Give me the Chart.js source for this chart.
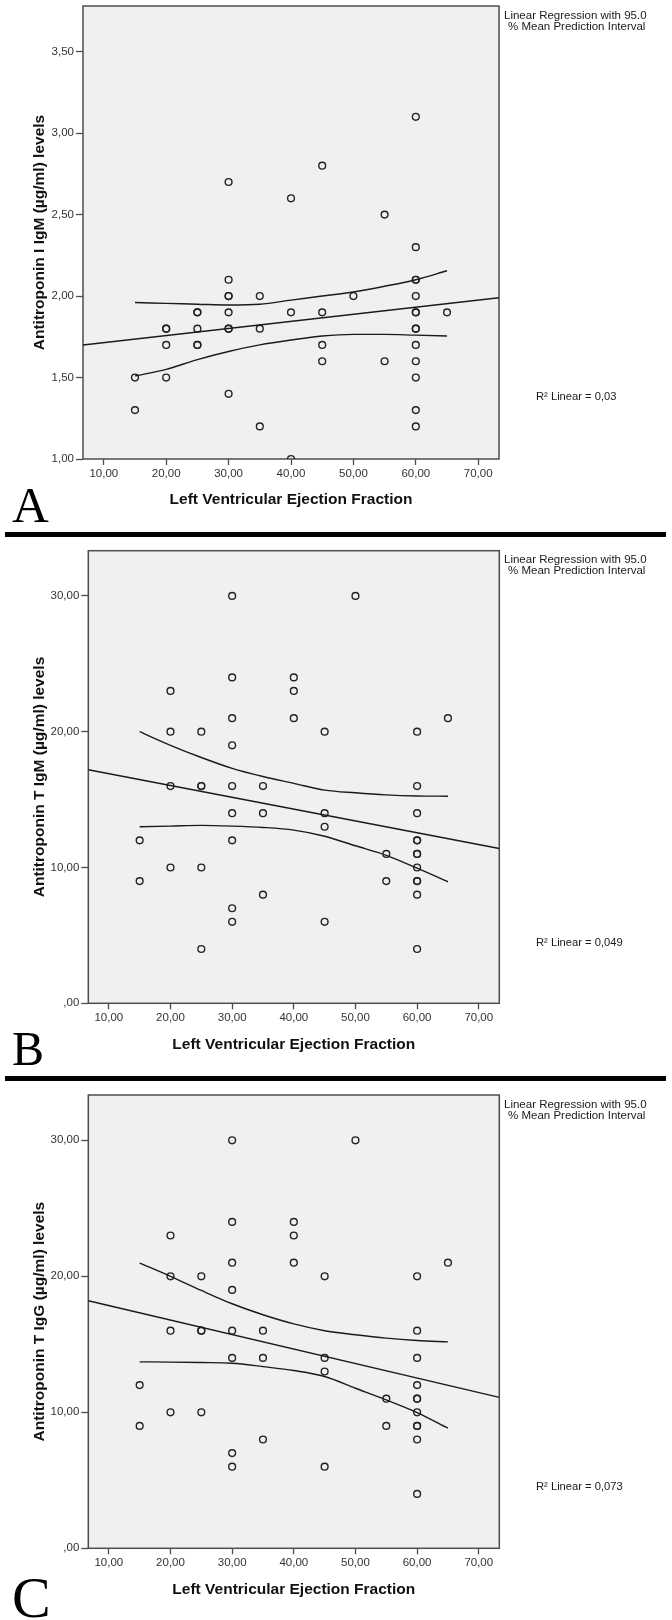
<!DOCTYPE html>
<html>
<head>
<meta charset="utf-8">
<script src="https://cdn.jsdelivr.net/npm/chart.js@4.4.1/dist/chart.umd.min.js"></script>
<style>
  body { margin: 0; background: #fff; }
  #page { position: relative; width: 672px; height: 1620px; overflow: hidden; }
  .panel { position: absolute; left: 0; }
  .rule { position: absolute; left: 5px; width: 661px; height: 5px; background: #000; }
</style>
</head>
<body>
<div id="page">
  <div class="panel" style="top:0px"><canvas id="chartA" width="672" height="530"></canvas></div>
  <div class="rule" style="top:532px"></div>
  <div class="panel" style="top:540px"><canvas id="chartB" width="672" height="530"></canvas></div>
  <div class="rule" style="top:1076px"></div>
  <div class="panel" style="top:1084px"><canvas id="chartC" width="672" height="536"></canvas></div>
</div>
<script>
// LVEF groups on the x axis, shared by all three panels
var efGroups = [15, 20, 25, 30, 35, 40, 45, 50, 55, 60, 65];

// one list of measured values per LVEF group (duplicates drawn twice)
var igmI = [
  [1.5, 1.3],
  [1.8, 1.8, 1.7, 1.5],
  [1.9, 1.9, 1.8, 1.7, 1.7],
  [2.7, 2.1, 2.0, 2.0, 1.9, 1.8, 1.8, 1.4],
  [2.0, 1.8, 1.2],
  [2.6, 1.9, 1.0],
  [2.8, 1.9, 1.7, 1.6],
  [2.0],
  [2.5, 1.6],
  [3.1, 2.3, 2.1, 2.1, 2.0, 1.9, 1.9, 1.8, 1.8, 1.7, 1.6, 1.5, 1.3, 1.2],
  [1.9]
];
var igmT = [
  [12, 9],
  [23, 20, 16, 10],
  [20, 16, 16, 10, 4],
  [30, 24, 21, 19, 16, 14, 12, 7, 6],
  [16, 14, 8],
  [24, 23, 21],
  [20, 14, 13, 6],
  [30],
  [11, 9],
  [20, 16, 14, 12, 12, 11, 11, 10, 9, 9, 8, 4],
  [21]
];
var iggT = [
  [12, 9],
  [23, 20, 16, 10],
  [20, 16, 16, 10],
  [30, 24, 21, 19, 16, 14, 7, 6],
  [16, 14, 8],
  [24, 23, 21],
  [20, 14, 13, 6],
  [30],
  [11, 9],
  [20, 16, 14, 12, 11, 11, 10, 9, 9, 8, 4],
  [21]
];

// regression line, read at the left and right plot edges
var fitEnds = [6.67, 73.33];
var fitI = [1.70, 1.99];
var fitTM = [17.2, 11.4];
var fitTG = [18.2, 11.1];

// 95% mean prediction interval curves
var ciX = [15, 20, 25, 30, 35, 40, 45, 50, 55, 60, 65];
var upperI = [1.96, 1.955, 1.95, 1.945, 1.95, 1.975, 2.0, 2.025, 2.06, 2.10, 2.155];
var lowerI = [1.51, 1.55, 1.61, 1.66, 1.70, 1.73, 1.755, 1.765, 1.765, 1.76, 1.755];
var upperTM = [20.0, 19.0, 18.1, 17.3, 16.7, 16.2, 15.7, 15.5, 15.35, 15.27, 15.25];
var lowerTM = [13.0, 13.05, 13.1, 13.05, 12.95, 12.75, 12.3, 11.6, 10.9, 9.95, 8.95];
var upperTG = [20.97, 20.0, 18.96, 17.98, 17.17, 16.5, 16.0, 15.7, 15.45, 15.28, 15.18];
var lowerTG = [13.71, 13.69, 13.66, 13.61, 13.36, 13.07, 12.63, 11.77, 10.91, 9.98, 8.83];

// ticks
var xTicks = [10, 20, 30, 40, 50, 60, 70];
var yTicksI = [1.0, 1.5, 2.0, 2.5, 3.0, 3.5];
var yTicksT = [0, 10, 20, 30];

var xTitle = 'Left Ventricular Ejection Fraction';
var legendLines = ['Linear Regression with 95.0', '% Mean Prediction Interval'];

var SANS = "'Liberation Sans', Arial, sans-serif";

function toPoints(xs, groups) {
  var pts = [];
  for (var i = 0; i < xs.length; i++)
    for (var j = 0; j < groups[i].length; j++)
      pts.push({x: xs[i], y: groups[i][j]});
  return pts;
}
function pairs(xs, ys) {
  return xs.map(function (x, i) { return {x: x, y: ys[i]}; });
}
// SPSS style numbers: 1,50  ,00
function spss(v) {
  var s = Number(v).toFixed(2).replace('.', ',');
  if (s.indexOf('0,') === 0) s = s.slice(1);
  return s;
}

var panelText = {
  id: 'panelText',
  beforeDraw: function (chart) {
    var a = chart.chartArea, ctx = chart.ctx;
    ctx.save();
    ctx.fillStyle = '#f0f0f0';
    ctx.fillRect(a.left, a.top, a.right - a.left, a.bottom - a.top);
    ctx.restore();
  },
  beforeDatasetsDraw: function (chart) {
    var a = chart.chartArea, ctx = chart.ctx;
    ctx.save();
    ctx.strokeStyle = '#4d4d4d';
    ctx.lineWidth = 1.5;
    ctx.strokeRect(a.left, a.top, a.right - a.left, a.bottom - a.top);
    ctx.restore();
  },
  afterDraw: function (chart, args, o) {
    var ctx = chart.ctx;
    ctx.save();
    ctx.fillStyle = '#1a1a1a';
    ctx.textBaseline = 'middle';
    ctx.font = '11.5px ' + SANS;
    ctx.fillText(legendLines[0], 504, o.legendY);
    ctx.fillText(legendLines[1], 508, o.legendY + 10.5);
    ctx.font = '11.2px ' + SANS;
    ctx.fillText(o.r2, 536, o.r2Y);
    ctx.fillStyle = '#000';
    ctx.textBaseline = 'alphabetic';
    ctx.font = o.letterSize + "px 'Liberation Serif', 'Times New Roman', serif";
    ctx.fillText(o.letter, 12, o.letterY);
    ctx.restore();
  }
};

function makePanel(id, p) {
  var xAxisH = 60;
  var lineStyle = {type: 'line', showLine: true, pointRadius: 0, borderColor: '#1a1a1a', borderWidth: 1.4, fill: false};
  return new Chart(document.getElementById(id), {
    type: 'scatter',
    data: {
      datasets: [
        Object.assign({}, lineStyle, {data: pairs(fitEnds, p.fit)}),
        Object.assign({}, lineStyle, {data: pairs(ciX, p.upper), cubicInterpolationMode: 'monotone'}),
        Object.assign({}, lineStyle, {data: pairs(ciX, p.lower), cubicInterpolationMode: 'monotone'}),
        {
          data: toPoints(efGroups, p.values),
          pointRadius: 3.4,
          borderWidth: 1.4,
          pointBorderWidth: 1.4,
          borderColor: '#222',
          backgroundColor: 'rgba(0,0,0,0)'
        }
      ]
    },
    options: {
      responsive: false,
      animation: false,
      events: [],
      layout: {padding: {left: 0, top: p.top, right: 672 - p.right, bottom: p.height - p.bottom - xAxisH}},
      plugins: {
        legend: {display: false},
        tooltip: {enabled: false},
        panelText: {legendY: p.legendY, r2: p.r2, r2Y: p.r2Y, letter: p.letter, letterY: p.letterY, letterSize: p.letterSize}
      },
      scales: {
        x: {
          type: 'linear', min: 6.67, max: 73.33,
          afterBuildTicks: function (s) { s.ticks = xTicks.map(function (v) { return {value: v}; }); },
          afterFit: function (s) { s.height = xAxisH; s.paddingLeft = 0; s.paddingRight = 0; },
          border: {display: false},
          grid: {drawOnChartArea: false, drawTicks: true, tickLength: 6, tickColor: '#4d4d4d', tickWidth: 1.3},
          ticks: {padding: 1.5, color: '#333', font: {family: SANS, size: 11.5}, maxRotation: 0, callback: spss},
          title: {display: true, text: xTitle, color: '#111', font: {family: SANS, size: 15.5, weight: 'bold', lineHeight: 1.2}, padding: {top: 0, bottom: 9.7}}
        },
        y: {
          type: 'linear', min: p.yMin, max: p.yMax,
          afterBuildTicks: function (s) { s.ticks = p.yTicks.map(function (v) { return {value: v}; }); },
          afterFit: function (s) { s.width = p.left; s.paddingTop = 0; s.paddingBottom = 0; },
          border: {display: false},
          grid: {drawOnChartArea: false, drawTicks: true, tickLength: 7, tickColor: '#4d4d4d', tickWidth: 1.3},
          ticks: {padding: 2, color: '#333', font: {family: SANS, size: 11.5}, callback: spss},
          title: {display: true, text: p.yTitle, color: '#111', font: {family: SANS, size: 15.5, weight: 'bold', lineHeight: 1.2}, padding: {top: 30.7, bottom: 0}}
        }
      }
    },
    plugins: [panelText]
  });
}

makePanel('chartA', {
  height: 530, top: 6, bottom: 459, left: 83, right: 499,
  yMin: 1.0, yMax: 3.78, yTicks: yTicksI,
  yTitle: 'Antitroponin I IgM (\u00b5g/ml) levels',
  values: igmI, fit: fitI, upper: upperI, lower: lowerI,
  legendY: 16, r2: 'R\u00b2 Linear = 0,03', r2Y: 397.3,
  letter: 'A', letterY: 522, letterSize: 51
});
makePanel('chartB', {
  height: 530, top: 10.7, bottom: 463.3, left: 88.3, right: 499.3,
  yMin: 0, yMax: 33.33, yTicks: yTicksT,
  yTitle: 'Antitroponin T IgM (\u00b5g/ml) levels',
  values: igmT, fit: fitTM, upper: upperTM, lower: lowerTM,
  legendY: 20, r2: 'R\u00b2 Linear = 0,049', r2Y: 402.7,
  letter: 'B', letterY: 525, letterSize: 48
});
makePanel('chartC', {
  height: 536, top: 11, bottom: 464.3, left: 88.3, right: 499.3,
  yMin: 0, yMax: 33.33, yTicks: yTicksT,
  yTitle: 'Antitroponin T IgG (\u00b5g/ml) levels',
  values: iggT, fit: fitTG, upper: upperTG, lower: lowerTG,
  legendY: 21, r2: 'R\u00b2 Linear = 0,073', r2Y: 402.7,
  letter: 'C', letterY: 533, letterSize: 58
});
</script>
</body>
</html>
